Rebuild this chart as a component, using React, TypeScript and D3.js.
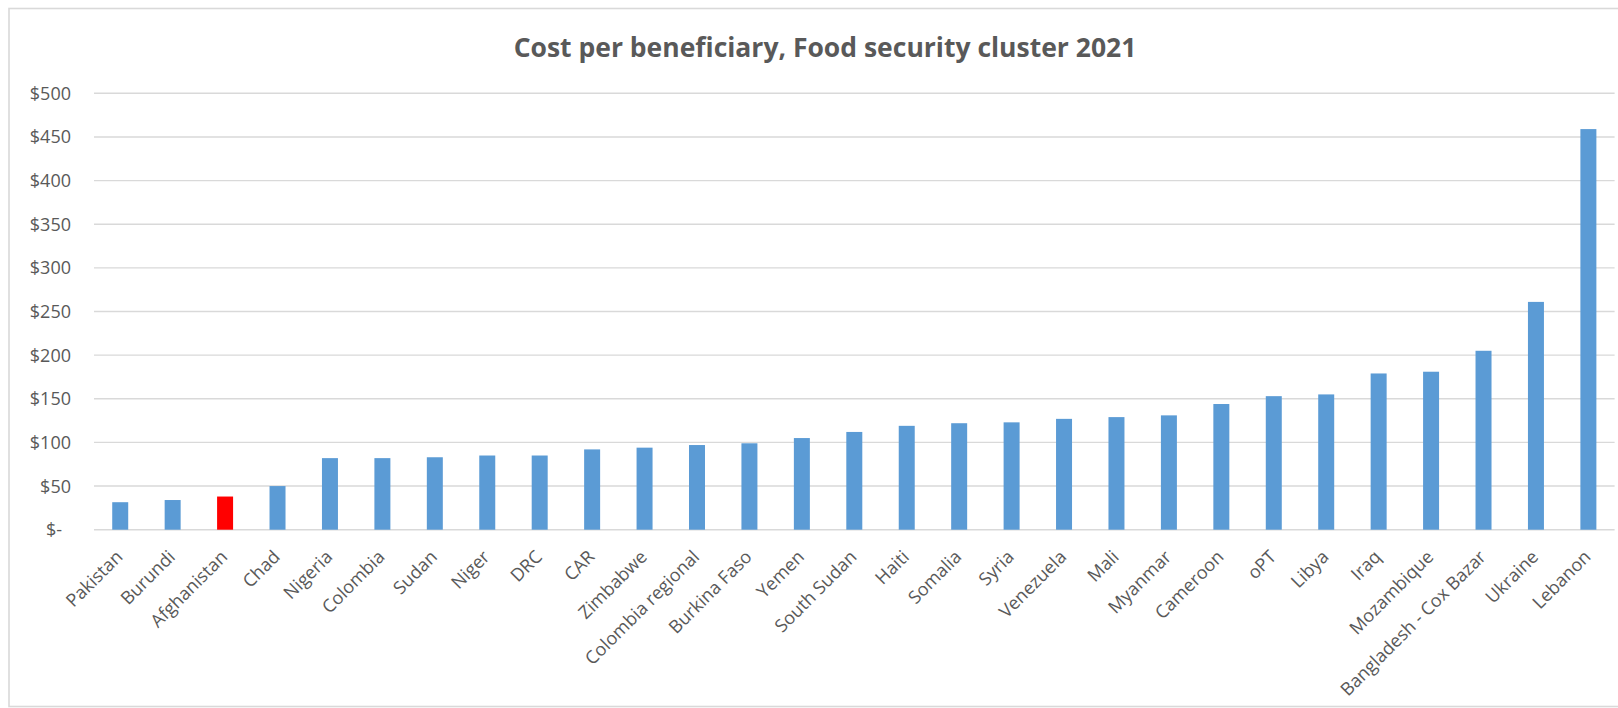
import React from "react";
import * as d3 from "d3";

const categories = [
  "Pakistan", "Burundi", "Afghanistan", "Chad", "Nigeria", "Colombia", "Sudan", "Niger", "DRC", "CAR",
  "Zimbabwe", "Colombia regional", "Burkina Faso", "Yemen", "South Sudan", "Haiti", "Somalia", "Syria",
  "Venezuela", "Mali", "Myanmar", "Cameroon", "oPT", "Libya", "Iraq", "Mozambique",
  "Bangladesh - Cox Bazar", "Ukraine", "Lebanon",
];
const values = [
  31.5, 34, 38, 50, 82, 82, 83, 85, 85, 92,
  94, 97, 99, 105, 112, 119, 122, 123,
  127, 129, 131, 144, 153, 155, 179, 181,
  205, 261, 459,
];
const highlighted = ["Afghanistan"];
const tickValues = [0, 50, 100, 150, 200, 250, 300, 350, 400, 450, 500];
const tickLabels = ["$-", "$50", "$100", "$150", "$200", "$250", "$300", "$350", "$400", "$450", "$500"];
const title = "Cost per beneficiary, Food security cluster 2021";

const W = 1618;
const H = 708;
const plotLeft = 94;
const plotRight = 1614.6;
const plotTop = 93.3;
const plotBottom = 529.7;
const textColor = "#595959";
const gridColor = "#d9d9d9";
const barColor = "#5b9bd5";
const highlightColor = "#ff0000";
const font = "'Open Sans', 'Noto Sans', sans-serif";

export default function App() {
  const x = d3
    .scaleBand<string>()
    .domain(categories)
    .range([plotLeft, plotRight])
    .paddingInner(0.695)
    .paddingOuter(0.3475);
  const y = d3.scaleLinear().domain([0, 500]).range([plotBottom, plotTop]);

  return (
    <svg
      width={W}
      height={H}
      style={{ position: "absolute", left: 0, top: 0, background: "#fff" }}
      fontFamily={font}
    >
      <rect x={0} y={0} width={W} height={H} fill="#fff" />
      <rect x={9} y={8.5} width={W + 20} height={698} fill="#fff" stroke={gridColor} strokeWidth={1.6} />
      <text
        x={825}
        y={57}
        textAnchor="middle"
        fontSize={26.5}
        fontWeight={700}
        fill={textColor}
      >
        {title}
      </text>
      {tickValues.map((v, i) => (
        <g key={v}>
          <line x1={plotLeft} x2={plotRight} y1={y(v)} y2={y(v)} stroke={gridColor} strokeWidth={1.4} />
          <text
            x={v === 0 ? 62 : 71}
            y={y(v)}
            dy="0.36em"
            textAnchor="end"
            fontSize={18}
            fill={textColor}
          >
            {tickLabels[i]}
          </text>
        </g>
      ))}
      {categories.map((c, i) => (
        <rect
          key={c}
          x={x(c)}
          y={y(values[i])}
          width={x.bandwidth()}
          height={y(0) - y(values[i])}
          fill={highlighted.includes(c) ? highlightColor : barColor}
        />
      ))}
      {categories.map((c) => {
        const cx = (x(c) as number) + x.bandwidth() / 2;
        return (
          <text
            key={c + "-label"}
            transform={`translate(${cx + 3.5},${558}) rotate(-45)`}
            textAnchor="end"
            fontSize={18}
            fill={textColor}
          >
            {c}
          </text>
        );
      })}
    </svg>
  );
}
